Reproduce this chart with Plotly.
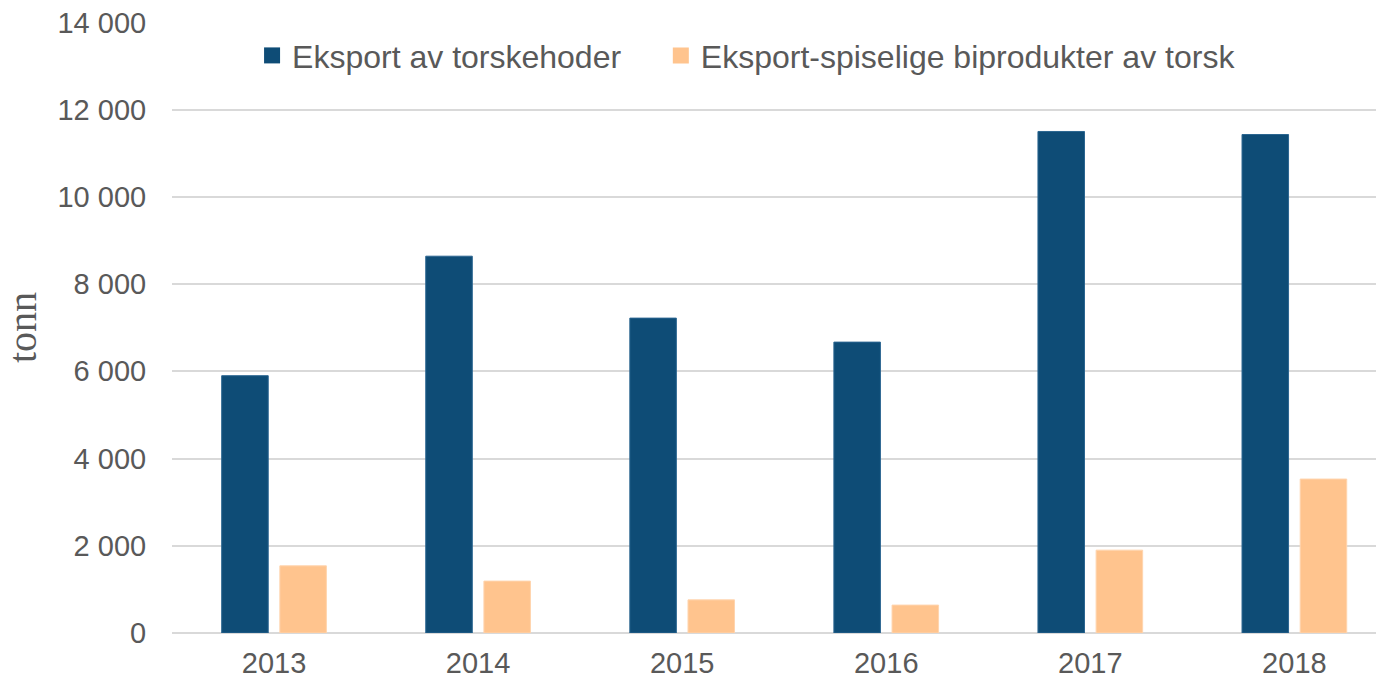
import plotly.graph_objects as go

years = ["2013", "2014", "2015", "2016", "2017", "2018"]
hoder = [5900, 8640, 7220, 6670, 11500, 11430]
biprodukter = [1540, 1190, 760, 640, 1900, 3530]
name_hoder = "Eksport av torskehoder"
name_bi = "Eksport-spiselige biprodukter av torsk"
y_ticks = [0, 2000, 4000, 6000, 8000, 10000, 12000, 14000]
c_hoder = "#0E4C76"
c_bi = "#FFC48E"

fig = go.Figure()
fig.add_trace(go.Bar(x=years, y=hoder, name=name_hoder, showlegend=False,
                     marker=dict(color=c_hoder, line=dict(color="#2A6590", width=1))))
fig.add_trace(go.Bar(x=years, y=biprodukter, name=name_bi, showlegend=False,
                     marker=dict(color=c_bi, line=dict(color="#FFD4AE", width=1))))
# legend entries with larger square symbols
fig.add_trace(go.Scatter(x=[None], y=[None], mode="markers", name=name_hoder, legend="legend",
                         marker=dict(symbol="square", size=16, color=c_hoder)))
fig.add_trace(go.Scatter(x=[None], y=[None], mode="markers", name=name_bi, legend="legend2",
                         marker=dict(symbol="square", size=16, color=c_bi)))

leg_common = dict(orientation="h", y=0.945, xanchor="left", yanchor="middle",
                  font=dict(size=32, color="#595959"), bgcolor="rgba(0,0,0,0)",
                  itemwidth=30)

fig.update_layout(
    width=1376, height=680,
    margin=dict(l=172, r=0, t=22, b=47, autoexpand=False),
    paper_bgcolor="white", plot_bgcolor="white",
    barmode="group", bargap=0.43, bargroupgap=0.2,
    separators=", ",
    font=dict(family="Liberation Sans, Arial, sans-serif", size=29, color="#595959"),
    showlegend=True,
    legend=dict(x=0.0665, **leg_common),
    legend2=dict(x=0.406, **leg_common),
    xaxis=dict(range=[-0.5, 5.4], showgrid=False, showline=False, zeroline=False,
               automargin=False, ticks="outside", ticklen=4, tickcolor="white",
               tickfont=dict(size=29, color="#595959")),
    yaxis=dict(range=[0, 14010], tickvals=y_ticks, tickformat=",d",
               automargin=False,
               showgrid=True, gridcolor="#D9D9D9", gridwidth=1.5,
               zeroline=True, zerolinecolor="#D9D9D9", zerolinewidth=1.5,
               showline=False, ticks="outside", ticklen=19, tickcolor="white",
               tickfont=dict(size=29, color="#595959"),
               title=dict(text="tonn", standoff=14,
                          font=dict(family="Liberation Serif, Times New Roman, serif",
                                    size=40, color="#595959"))),
)

fig.write_html("out.html", config={"displayModeBar": False},
               post_script="document.body.style.margin='0';")
